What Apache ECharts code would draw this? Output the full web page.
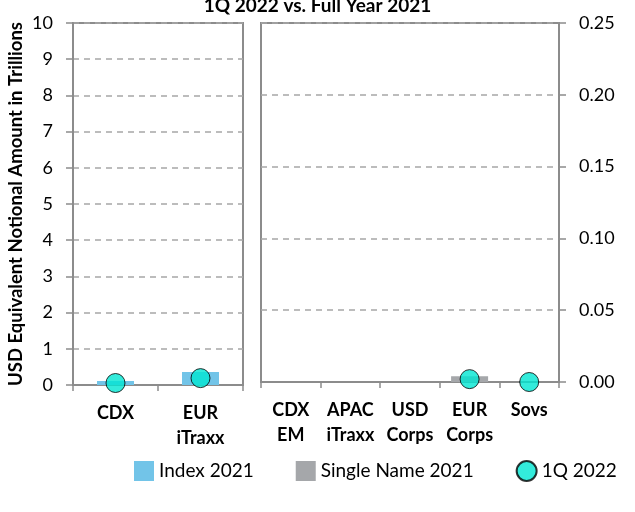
<!DOCTYPE html>
<html>
<head>
<meta charset="utf-8">
<script src="https://cdn.jsdelivr.net/npm/echarts@6/dist/echarts.min.js"></script>
<style>
  html, body { margin: 0; padding: 0; background: #fff; }
  #chart { width: 635px; height: 512px; }
</style>
</head>
<body>
<div id="chart"></div>
<script>
// categories
const leftCats = ['CDX', 'EUR\niTraxx'];
const rightCats = ['CDX\nEM', 'APAC\niTraxx', 'USD\nCorps', 'EUR\nCorps', 'Sovs'];

// values (USD trillions)
const leftIndex2021 = [0.11, 0.36];
const leftQ1_2022 = [0.055, 0.19];
const rightIndex2021 = [0, 0, '-', '-', '-'];
const rightSingle2021 = ['-', '-', 0, 0.004, 0];
const rightQ1_2022 = ['-', '-', '-', 0.002, 0];

// tick settings
const leftMax = 10, leftStep = 1;
const rightMax = 0.25, rightStep = 0.05;

const FONT = 'Lato';
const AXIS_GREY = '#8c8c8c';
const GRID_GREY = '#a6a6a6';
const BLUE = '#72c4e8';
const GREY = '#a5a7aa';
const TEAL = '#00e6d2';

const chart = echarts.init(document.getElementById('chart'));

const catAxis = (idx, data) => ({
  type: 'category',
  gridIndex: idx,
  data: data,
  axisLine: { lineStyle: { color: AXIS_GREY, width: 2 } },
  axisTick: { show: true, length: 6, lineStyle: { color: AXIS_GREY, width: 1.5 } },
  axisLabel: {
    interval: 0, margin: 16, color: '#000', fontFamily: FONT,
    fontWeight: 'bold', fontSize: 18, lineHeight: 25
  }
});

const valAxis = (idx, pos, max, step, fmt, margin) => ({
  type: 'value',
  gridIndex: idx,
  position: pos,
  min: 0, max: max, interval: step,
  axisLine: { show: true, lineStyle: { color: AXIS_GREY, width: 2 } },
  axisTick: { show: true, length: 7, lineStyle: { color: AXIS_GREY, width: 1.5 } },
  axisLabel: { formatter: fmt, margin: margin, color: '#000', fontFamily: FONT, fontSize: 18 },
  splitLine: { show: true, lineStyle: { color: GRID_GREY, type: [6, 5], width: 1.5 } }
});

const yLeft = valAxis(0, 'left', leftMax, leftStep, v => String(v), 20);
yLeft.name = 'USD Equivalent Notional Amount in Trillions';
yLeft.nameLocation = 'middle';
yLeft.nameGap = 47;
yLeft.nameTextStyle = { fontFamily: FONT, fontWeight: 'bold', fontSize: 18.5, color: '#000' };

const dot = { color: TEAL, borderColor: '#000', borderWidth: 1 };

const option = {
  animation: false,
  title: {
    text: '1Q 2022 vs. Full Year 2021',
    left: 'center', top: -9,
    textStyle: { fontFamily: FONT, fontWeight: 'bold', fontSize: 19, color: '#000' }
  },
  legend: {
    left: 134, top: 460, padding: 0,
    itemWidth: 20, itemHeight: 20, itemGap: 42,
    textStyle: { fontFamily: FONT, fontSize: 19, color: '#000' },
    data: [
      { name: 'Index 2021', icon: 'rect' },
      { name: 'Single Name 2021', icon: 'rect' },
      { name: '1Q 2022', icon: 'circle' }
    ]
  },
  grid: [
    { left: 73, right: 392, top: 23, bottom: 127, show: true, borderColor: AXIS_GREY, borderWidth: 2 },
    { left: 261, right: 76, top: 23, bottom: 130, show: true, borderColor: AXIS_GREY, borderWidth: 2 }
  ],
  xAxis: [catAxis(0, leftCats), catAxis(1, rightCats)],
  yAxis: [
    yLeft,
    valAxis(1, 'right', rightMax, rightStep, v => v.toFixed(2), 20)
  ],
  series: [
    { name: 'Index 2021', type: 'bar', xAxisIndex: 0, yAxisIndex: 0,
      data: leftIndex2021, barWidth: 37, itemStyle: { color: BLUE } },
    { name: 'Index 2021', type: 'bar', xAxisIndex: 1, yAxisIndex: 1,
      data: rightIndex2021, barWidth: 37, barGap: '-100%', itemStyle: { color: BLUE } },
    { name: 'Single Name 2021', type: 'bar', xAxisIndex: 1, yAxisIndex: 1,
      data: rightSingle2021, barWidth: 37, barGap: '-100%', itemStyle: { color: GREY } },
    { name: '1Q 2022', type: 'scatter', xAxisIndex: 0, yAxisIndex: 0,
      data: leftQ1_2022, symbolSize: 19, itemStyle: dot, z: 5 },
    { name: '1Q 2022', type: 'scatter', xAxisIndex: 1, yAxisIndex: 1,
      data: rightQ1_2022, symbolSize: 19, itemStyle: dot, z: 5 }
  ]
};

chart.setOption(option);
</script>
</body>
</html>
